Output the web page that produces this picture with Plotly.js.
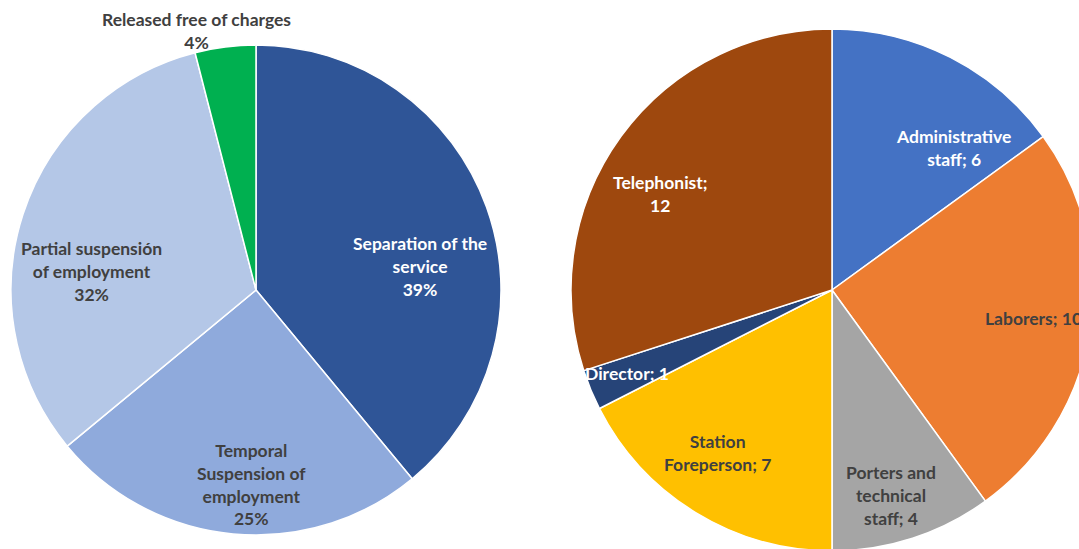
<!DOCTYPE html>
<html>
<head>
<meta charset="utf-8">
<script src="https://cdn.plot.ly/plotly-3.0.1.min.js"></script>
<style>
  html, body { margin:0; padding:0; overflow:hidden; background:#fff; }
  #chart { width:1100px; height:560px; }
</style>
</head>
<body>
<div id="chart"></div>
<script>
// Left pie: sanctions (percent)
const sanctionLabels = ["Separation of the service", "Temporal Suspension of employment", "Partial suspensión of employment", "Released free of charges"];
const sanctionValues = [39, 25, 32, 4];
const sanctionColors = ["#2F5597", "#8FAADC", "#B4C7E7", "#00B050"];

// Right pie: staff positions (counts)
const staffLabels = ["Administrative staff", "Laborers", "Porters and technical staff", "Station Foreperson", "Director", "Telephonist"];
const staffValues = [6, 10, 4, 7, 1, 12];
const staffColors = ["#4472C4", "#ED7D31", "#A5A5A5", "#FFC000", "#264478", "#9E480E"];

const W = 1100, H = 560;
const dark = "#404040";

function dom(cx, cy, r) {
  return { x: [(cx - r) / W, (cx + r) / W], y: [(H - cy - r) / H, (H - cy + r) / H] };
}

const traces = [
  {
    type: "pie", labels: sanctionLabels, values: sanctionValues,
    marker: { colors: sanctionColors, line: { color: "#ffffff", width: 1.5 } },
    sort: false, direction: "clockwise", rotation: 0,
    textinfo: "none", hoverinfo: "label+percent", showlegend: false,
    domain: dom(256, 290, 245)
  },
  {
    type: "pie", labels: staffLabels, values: staffValues,
    marker: { colors: staffColors, line: { color: "#ffffff", width: 1.5 } },
    sort: false, direction: "clockwise", rotation: 0,
    textinfo: "none", hoverinfo: "label+value", showlegend: false,
    domain: dom(832, 290, 261)
  }
];

function pct(i) {
  const t = sanctionValues.reduce((a, b) => a + b, 0);
  return Math.round(100 * sanctionValues[i] / t) + "%";
}

// label layout: [text, x px, y px, color, xanchor]
const labelSpecs = [
  ["Released free of charges<br>" + pct(3), 196, 31, dark, "center"],
  ["Separation of the<br>service<br>" + pct(0), 420, 266, "#ffffff", "center"],
  ["Partial suspensión<br>of employment<br>" + pct(2), 91, 271, dark, "center"],
  ["Temporal<br>Suspension of<br>employment<br>" + pct(1), 251, 484, dark, "center"],
  ["Administrative<br>staff; " + staffValues[0], 953, 148, "#ffffff", "center"],
  ["Laborers; " + staffValues[1], 983, 318, dark, "left"],
  ["Porters and<br>technical<br>staff; " + staffValues[2], 891, 495, dark, "center"],
  ["Station<br>Foreperson; " + staffValues[3], 717, 453, dark, "center"],
  ["Director; " + staffValues[4], 627, 373, "#ffffff", "center"],
  ["Telephonist;<br>" + staffValues[5], 660, 194, "#ffffff", "center"]
];

const annotations = labelSpecs.map(s => ({
  text: "<b>" + s[0] + "</b>",
  x: s[1] / W, y: 1 - s[2] / H, xref: "paper", yref: "paper",
  xanchor: s[4], yanchor: "middle", align: "center",
  showarrow: false,
  font: { family: "Lato, 'Open Sans', sans-serif", size: 17.5, color: s[3] }
}));

const layout = {
  width: W, height: H,
  margin: { l: 0, r: 0, t: 0, b: 0 },
  paper_bgcolor: "#ffffff", plot_bgcolor: "#ffffff",
  showlegend: false,
  annotations: annotations
};

Plotly.newPlot("chart", traces, layout, { displayModeBar: false, staticPlot: true });
</script>
</body>
</html>
